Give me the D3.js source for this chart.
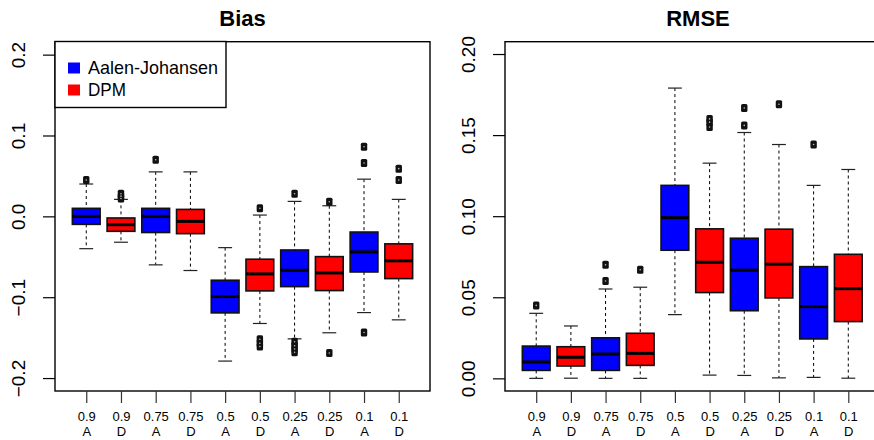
<!DOCTYPE html>
<html>
<head>
<meta charset="utf-8">
<script src="https://cdn.jsdelivr.net/npm/d3@7"></script>
<style>
  body { margin: 0; background: #fff; }
  svg { display: block; }
</style>
</head>
<body>
<svg id="chart" width="874" height="440"></svg>
<script>
const quantiles = ["0.9", "0.9", "0.75", "0.75", "0.5", "0.5", "0.25", "0.25", "0.1", "0.1"];
const methods = ["A", "D", "A", "D", "A", "D", "A", "D", "A", "D"];
const legendLabels = ["Aalen-Johansen", "DPM"];
const colors = ["#0000ff", "#ff0000"];

// Bias panel: whiskers, quartiles, medians, outliers
const biasLow = [-0.040, -0.032, -0.060, -0.067, -0.179, -0.1325, -0.1515, -0.144, -0.119, -0.128];
const biasQ1 = [-0.0099, -0.0185, -0.020, -0.0214, -0.1194, -0.0922, -0.0869, -0.0918, -0.0688, -0.077];
const biasMed = [0, -0.0103, 0, -0.0062, -0.0992, -0.0712, -0.0667, -0.070, -0.044, -0.055];
const biasQ3 = [0.0099, -0.002, 0.0099, 0.0086, -0.079, -0.053, -0.0416, -0.0498, -0.0194, -0.034];
const biasHigh = [0.040, 0.021, 0.055, 0.055, -0.0387, 0.0016, 0.0185, 0.0131, 0.046, 0.021];
const biasOut = [[0.045], [0.022, 0.025, 0.028], [0.070], [], [],
  [0.010, -0.152, -0.157, -0.161], [0.028, -0.155, -0.160, -0.164, -0.168], [0.018, -0.169],
  [0.066, 0.086, -0.1437], [0.045, 0.059]];
const biasTicks = [-0.2, -0.1, 0.0, 0.1, 0.2];

// RMSE panel
const rmseLow = [0, 0.0001, 0, 0, 0.0393, 0.002, 0.0018, 0.0003, 0.0006, 0.0001];
const rmseQ1 = [0.0049, 0.0076, 0.0049, 0.008, 0.079, 0.0529, 0.0417, 0.0496, 0.0243, 0.035];
const rmseMed = [0.0101, 0.013, 0.015, 0.0154, 0.0991, 0.0716, 0.0667, 0.0704, 0.0442, 0.0553];
const rmseQ3 = [0.0199, 0.0195, 0.025, 0.0278, 0.119, 0.0922, 0.0864, 0.092, 0.0689, 0.0765];
const rmseHigh = [0.0401, 0.0323, 0.0551, 0.0562, 0.179, 0.1327, 0.1516, 0.1442, 0.119, 0.1288];
const rmseOut = [[0.045], [], [0.060, 0.070], [0.067], [],
  [0.155, 0.158, 0.160], [0.156, 0.1667], [0.169], [0.1442], []];
const rmseTicks = [0.00, 0.05, 0.10, 0.15, 0.20];

const svg = d3.select("#chart");
const FONT = "'Liberation Sans', Arial, sans-serif";

function drawPanel(opt) {
  const x = d3.scaleLinear().domain([0.1, 10.9]).range([opt.left, opt.right]);
  const y = d3.scaleLinear().domain(opt.yDomain).range([opt.bottom, opt.top]);
  const g = svg.append("g");

  const rows = quantiles.map((q, i) => ({
    i: i, q: q, m: methods[i],
    lo: opt.low[i], q1: opt.q1[i], med: opt.med[i], q3: opt.q3[i], hi: opt.high[i],
    out: opt.out[i]
  }));
  const bw = x(1.4) - x(1);   // half box width (boxwex 0.8)
  const sw = bw / 2;          // half staple

  const box = g.selectAll(".box").data(rows).enter().append("g").attr("class", "box");

  // whiskers
  box.append("line")
    .attr("x1", d => x(d.i + 1)).attr("x2", d => x(d.i + 1))
    .attr("y1", d => y(d.hi)).attr("y2", d => y(d.q3))
    .attr("stroke", "#000").attr("stroke-width", 1).attr("stroke-dasharray", "3,3");
  box.append("line")
    .attr("x1", d => x(d.i + 1)).attr("x2", d => x(d.i + 1))
    .attr("y1", d => y(d.q1)).attr("y2", d => y(d.lo))
    .attr("stroke", "#000").attr("stroke-width", 1).attr("stroke-dasharray", "3,3");
  // staples
  ["hi", "lo"].forEach(k => {
    box.append("line")
      .attr("x1", d => x(d.i + 1) - sw).attr("x2", d => x(d.i + 1) + sw)
      .attr("y1", d => y(d[k])).attr("y2", d => y(d[k]))
      .attr("stroke", "#222").attr("stroke-width", 1.2);
  });
  // boxes
  box.append("rect")
    .attr("x", d => x(d.i + 1) - bw)
    .attr("width", 2 * bw)
    .attr("y", d => y(d.q3))
    .attr("height", d => y(d.q1) - y(d.q3))
    .attr("fill", d => colors[d.i % 2])
    .attr("stroke", "#111").attr("stroke-width", 1.6);
  // medians
  box.append("line")
    .attr("x1", d => x(d.i + 1) - bw).attr("x2", d => x(d.i + 1) + bw)
    .attr("y1", d => y(d.med)).attr("y2", d => y(d.med))
    .attr("stroke", "#000").attr("stroke-width", 3);
  // outliers (dense overlapping open circles look like dark blobs)
  box.selectAll(".out").data(d => d.out.map(v => ({ i: d.i, v: v })))
    .enter().append("rect")
    .attr("class", "out")
    .attr("x", d => x(d.i + 1) - 3.2).attr("y", d => y(d.v) - 4)
    .attr("width", 6.4).attr("height", 8).attr("rx", 1.5)
    .attr("fill", "#111");
  box.selectAll(".dot").data(d => d.out.map(v => ({ i: d.i, v: v })))
    .enter().append("circle")
    .attr("class", "dot")
    .attr("cx", d => x(d.i + 1)).attr("cy", d => y(d.v))
    .attr("r", 0.8)
    .attr("fill", "#bbb");

  // frame
  g.append("rect")
    .attr("x", opt.left).attr("y", opt.top)
    .attr("width", opt.right - opt.left).attr("height", opt.bottom - opt.top)
    .attr("fill", "none").attr("stroke", "#000").attr("stroke-width", 1.4);

  // y axis
  const ya = g.append("g")
    .attr("transform", `translate(${opt.left},0)`)
    .call(d3.axisLeft(y).tickValues(opt.ticks).tickSize(12).tickFormat(opt.fmt));
  ya.select(".domain").remove();
  ya.selectAll(".tick line").attr("stroke", "#000").attr("stroke-width", 1.2);
  ya.selectAll(".tick text")
    .attr("transform", "rotate(-90)")
    .attr("x", 0).attr("y", -30).attr("dy", 0)
    .attr("text-anchor", "middle")
    .attr("fill", "#000")
    .style("font-family", FONT).style("font-size", "19px");

  // x axis, two-line labels (quantile over method)
  const xa = g.append("g")
    .attr("transform", `translate(0,${opt.bottom})`)
    .call(d3.axisBottom(x).tickValues(d3.range(1, 11)).tickSize(12).tickFormat(""));
  xa.select(".domain").remove();
  xa.selectAll(".tick line").attr("stroke", "#333").attr("stroke-width", 1.2);
  [[quantiles, 30], [methods, 45]].forEach(([labels, dy]) => {
    xa.selectAll(".tick").append("text")
      .attr("x", 0).attr("y", dy)
      .attr("text-anchor", "middle")
      .attr("fill", "#000")
      .style("font-family", FONT).style("font-size", "13px")
      .text((d, i) => labels[i]);
  });

  // title
  svg.append("text")
    .attr("x", opt.titleX).attr("y", 26)
    .attr("text-anchor", "middle")
    .style("font-family", FONT).style("font-weight", "bold").style("font-size", "22px")
    .text(opt.title);

  return { x, y, g };
}

const bias = drawPanel({
  title: "Bias", titleX: 242.5,
  left: 55, right: 430, top: 41.7, bottom: 391,
  yDomain: [-0.216, 0.216], ticks: biasTicks, fmt: d3.format(".1f"),
  low: biasLow, q1: biasQ1, med: biasMed, q3: biasQ3, high: biasHigh, out: biasOut
});

drawPanel({
  title: "RMSE", titleX: 698,
  left: 505, right: 879.5, top: 41.7, bottom: 391,
  yDomain: [-0.0078, 0.2076], ticks: rmseTicks, fmt: d3.format(".2f"),
  low: rmseLow, q1: rmseQ1, med: rmseMed, q3: rmseQ3, high: rmseHigh, out: rmseOut
});

// legend
const lg = bias.g.append("g").attr("transform", "translate(55,41.5)");
lg.append("rect")
  .attr("width", 171).attr("height", 66)
  .attr("fill", "#fff").attr("stroke", "#000").attr("stroke-width", 1.4);
const item = lg.selectAll(".item").data(legendLabels).enter().append("g")
  .attr("transform", (d, i) => `translate(13,${21 + i * 22})`);
item.append("rect")
  .attr("width", 12).attr("height", 11)
  .attr("fill", (d, i) => colors[i]);
item.append("text")
  .attr("x", 20).attr("y", 11.5)
  .style("font-family", "'Liberation Sans Narrow', 'Liberation Sans', sans-serif").style("font-size", "19px")
  .attr("textLength", (d, i) => i === 0 ? 130 : 38)
  .attr("lengthAdjust", "spacingAndGlyphs")
  .text(d => d);
</script>
</body>
</html>
